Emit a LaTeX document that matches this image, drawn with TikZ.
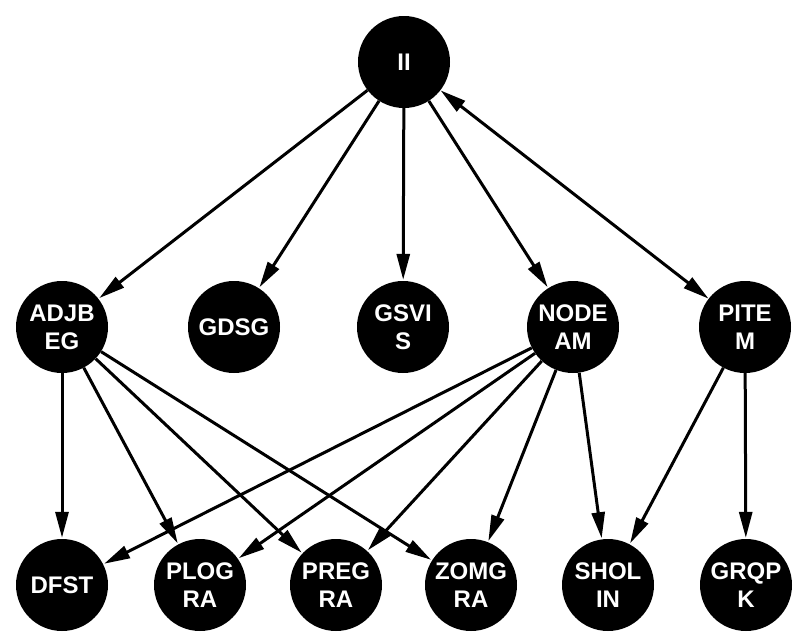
\documentclass[tikz,border=0pt]{standalone}
\usepackage{fontspec}
\setmainfont{Liberation Sans}
\usetikzlibrary{arrows.meta}
\begin{document}
\begin{tikzpicture}[x=1pt,y=-1pt,
  vert/.style={circle,fill=black,text=white,minimum size=92pt,inner sep=0pt,
    align=center,font=\fontsize{24}{28}\selectfont\bfseries},
  edge/.style={line width=3pt,-{Triangle[length=26pt,width=13pt]},shorten >=1pt},
  biedge/.style={line width=3pt,{Triangle[length=26pt,width=13pt]}-{Triangle[length=26pt,width=13pt]}}]
\useasboundingbox (0,0) rectangle (795,640);
% top
\node[vert] (ii) at (404,62) {II};
% middle row
\node[vert] (adjb) at (62,327) {ADJB\\EG};
\node[vert] (gdsg) at (234,327) {GDSG};
\node[vert] (gsvi) at (403,327) {GSVI\\S};
\node[vert] (node) at (573,327) {NODE\\AM};
\node[vert] (pite) at (745,327) {PITE\\M};
% bottom row
\node[vert] (dfst) at (62,585) {DFST};
\node[vert] (plog) at (200,585) {PLOG\\RA};
\node[vert] (preg) at (336,585) {PREG\\RA};
\node[vert] (zomg) at (471,585) {ZOMG\\RA};
\node[vert] (shol) at (608,585) {SHOL\\IN};
\node[vert] (grqp) at (746,585) {GRQP\\K};
% edges from the root
\draw[edge] (ii) -- (adjb);
\draw[edge] (ii) -- (gdsg);
\draw[edge] (ii) -- (gsvi);
\draw[edge] (ii) -- (node);
\draw[biedge] (ii) -- (pite);
% edges from ADJB EG
\draw[edge] (adjb) -- (dfst);
\draw[edge] (adjb) -- (plog);
\draw[edge] (adjb) -- (preg);
\draw[edge] (adjb) -- (zomg);
% edges from NODE AM
\draw[edge] (node) -- (dfst);
\draw[edge] (node) -- (plog);
\draw[edge] (node) -- (preg);
\draw[edge] (node) -- (zomg);
\draw[edge] (node) -- (shol);
% edges from PITE M
\draw[edge] (pite) -- (shol);
\draw[edge] (pite) -- (grqp);
\end{tikzpicture}
\end{document}
